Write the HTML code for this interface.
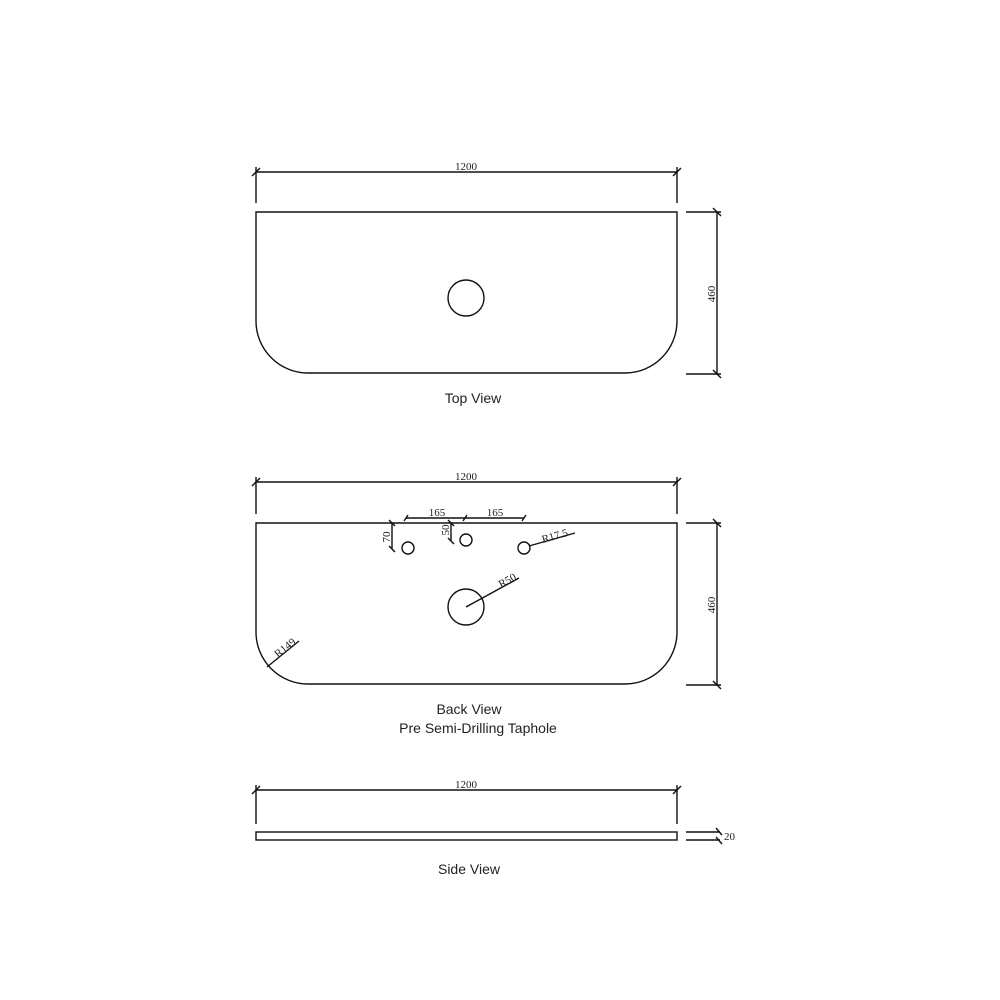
<!DOCTYPE html>
<html><head><meta charset="utf-8"><style>body{margin:0;background:#fff}svg{display:block}</style></head><body>
<svg width="1000" height="1000" viewBox="0 0 1000 1000" xmlns="http://www.w3.org/2000/svg">
<g fill="none" stroke="#111" stroke-width="1.4">
<!-- TOP VIEW -->
<path d="M256,212 H677 V321 A52,52 0 0 1 625,373 H308 A52,52 0 0 1 256,321 Z"/>
<circle cx="466" cy="298" r="18"/>
<line x1="256" y1="172" x2="677" y2="172"/>
<line x1="256" y1="167" x2="256" y2="203"/><line x1="677" y1="167" x2="677" y2="203"/>
<line x1="252" y1="176" x2="260" y2="168"/><line x1="673" y1="176" x2="681" y2="168"/>
<line x1="717" y1="212" x2="717" y2="374"/>
<line x1="686" y1="212" x2="721" y2="212"/><line x1="686" y1="374" x2="721" y2="374"/>
<line x1="713" y1="208" x2="721" y2="216"/><line x1="713" y1="370" x2="721" y2="378"/>
<!-- BACK VIEW -->
<path d="M256,523 H677 V632 A52,52 0 0 1 625,684 H308 A52,52 0 0 1 256,632 Z"/>
<circle cx="466" cy="607" r="18"/>
<circle cx="408" cy="548" r="6"/><circle cx="466" cy="540" r="6"/><circle cx="524" cy="548" r="6"/>
<line x1="256" y1="482" x2="677" y2="482"/>
<line x1="256" y1="477" x2="256" y2="514"/><line x1="677" y1="477" x2="677" y2="514"/>
<line x1="252" y1="486" x2="260" y2="478"/><line x1="673" y1="486" x2="681" y2="478"/>
<line x1="717" y1="523" x2="717" y2="685"/>
<line x1="686" y1="523" x2="721" y2="523"/><line x1="686" y1="685" x2="721" y2="685"/>
<line x1="713" y1="519" x2="721" y2="527"/><line x1="713" y1="681" x2="721" y2="689"/>
<!-- 165 dims -->
<line x1="406" y1="518" x2="524" y2="518"/>
<line x1="404" y1="521" x2="408" y2="515"/><line x1="463" y1="521" x2="467" y2="515"/><line x1="522" y1="521" x2="526" y2="515"/>
<!-- 70 / 50 -->
<line x1="392" y1="523" x2="392" y2="549"/><line x1="389" y1="520" x2="395" y2="526"/><line x1="389" y1="546" x2="395" y2="552"/>
<line x1="451" y1="523" x2="451" y2="541"/><line x1="448" y1="520" x2="454" y2="526"/><line x1="448" y1="538" x2="454" y2="544"/>
<!-- leaders -->
<line x1="529" y1="546" x2="575" y2="533"/>
<line x1="466" y1="607" x2="519" y2="578"/>
<line x1="267" y1="667" x2="299" y2="641"/>
<!-- SIDE VIEW -->
<rect x="256" y="832" width="421" height="8"/>
<line x1="256" y1="790" x2="677" y2="790"/>
<line x1="256" y1="785" x2="256" y2="824"/><line x1="677" y1="785" x2="677" y2="824"/>
<line x1="252" y1="794" x2="260" y2="786"/><line x1="673" y1="794" x2="681" y2="786"/>
<line x1="686" y1="832" x2="720" y2="832"/><line x1="686" y1="840" x2="720" y2="840"/>
<line x1="716" y1="828" x2="722" y2="835"/><line x1="716" y1="837" x2="722" y2="844"/>
</g>
<g font-family="Liberation Serif, serif" font-size="11" fill="#222">
<text x="466" y="170" text-anchor="middle">1200</text>
<text x="466" y="480" text-anchor="middle">1200</text>
<text x="466" y="788" text-anchor="middle">1200</text>
<text transform="translate(715,294) rotate(-90)" text-anchor="middle">460</text>
<text transform="translate(715,605) rotate(-90)" text-anchor="middle">460</text>
<text x="437" y="516" text-anchor="middle">165</text>
<text x="495" y="516" text-anchor="middle">165</text>
<text transform="translate(390,537) rotate(-90)" text-anchor="middle">70</text>
<text transform="translate(449,530) rotate(-90)" text-anchor="middle">50</text>
<text transform="translate(543,543) rotate(-16)">R17.5</text>
<text transform="translate(501,588) rotate(-29)">R50</text>
<text transform="translate(278,658) rotate(-39)">R149</text>
<text x="724" y="840">20</text>
</g>
<g font-family="Liberation Sans, sans-serif" font-size="14" fill="#222" text-anchor="middle">
<text x="473" y="403">Top View</text>
<text x="469" y="714">Back View</text>
<text x="478" y="733">Pre Semi-Drilling Taphole</text>
<text x="469" y="874">Side View</text>
</g>
</svg>
</body></html>
